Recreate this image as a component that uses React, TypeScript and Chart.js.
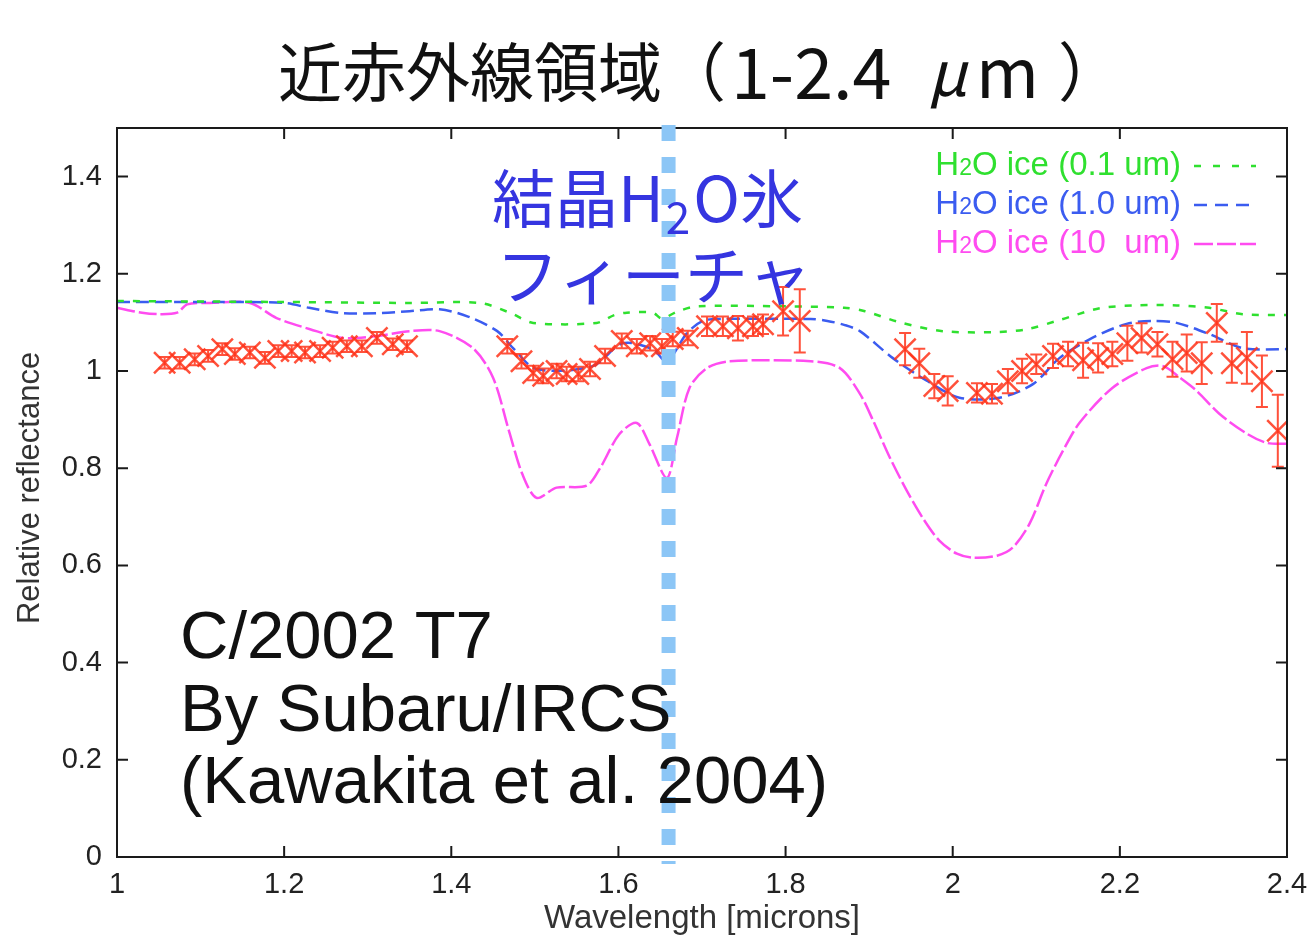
import React, { useEffect, useRef } from 'react';
import { Chart, registerables } from 'chart.js';

Chart.register(...registerables);

// ---- axis ticks ----
const xTickValues = [1, 1.2, 1.4, 1.6, 1.8, 2, 2.2, 2.4];
const xTickLabels = ['1', '1.2', '1.4', '1.6', '1.8', '2', '2.2', '2.4'];
const yTickValues = [0, 0.2, 0.4, 0.6, 0.8, 1, 1.2, 1.4];
const yTickLabels = ['0', '0.2', '0.4', '0.6', '0.8', '1', '1.2', '1.4'];

// ---- model: H2O ice 0.1 um ----
const ice01Wave = [1.0, 1.2, 1.35, 1.434, 1.47, 1.498, 1.574, 1.595, 1.61, 1.641, 1.652, 1.67, 1.694, 1.8, 1.87, 1.895, 1.937, 1.988, 2.05, 2.089, 2.128, 2.176, 2.22, 2.268, 2.307, 2.347, 2.4];
const ice01Refl = [1.144, 1.142, 1.14, 1.14, 1.12, 1.099, 1.099, 1.115, 1.12, 1.12, 1.108, 1.122, 1.133, 1.133, 1.13, 1.123, 1.1, 1.082, 1.08, 1.086, 1.105, 1.129, 1.135, 1.135, 1.13, 1.117, 1.115];

// ---- model: H2O ice 1.0 um ----
const ice1Wave = [1.0, 1.12, 1.2, 1.23, 1.27, 1.31, 1.35, 1.386, 1.42, 1.455, 1.474, 1.502, 1.569, 1.605, 1.641, 1.658, 1.682, 1.701, 1.72, 1.83, 1.85, 1.87, 1.889, 1.928, 1.969, 2.008, 2.056, 2.096, 2.128, 2.167, 2.208, 2.239, 2.268, 2.307, 2.347, 2.4];
const ice1Refl = [1.142, 1.142, 1.14, 1.13, 1.119, 1.119, 1.123, 1.127, 1.112, 1.082, 1.047, 1.004, 1.01, 1.057, 1.045, 1.02, 1.078, 1.103, 1.107, 1.107, 1.103, 1.095, 1.082, 1.027, 0.98, 0.945, 0.945, 0.973, 1.027, 1.068, 1.097, 1.103, 1.099, 1.076, 1.047, 1.045];

// ---- model: H2O ice 10 um ----
const ice10Wave = [1.0, 1.03, 1.051, 1.072, 1.084, 1.111, 1.159, 1.191, 1.231, 1.27, 1.311, 1.35, 1.386, 1.426, 1.45, 1.469, 1.485, 1.502, 1.526, 1.562, 1.578, 1.601, 1.622, 1.637, 1.658, 1.67, 1.685, 1.706, 1.733, 1.83, 1.865, 1.889, 1.905, 1.925, 1.945, 1.964, 1.984, 2.005, 2.024, 2.053, 2.072, 2.092, 2.112, 2.132, 2.152, 2.191, 2.232, 2.252, 2.272, 2.292, 2.319, 2.352, 2.376, 2.4];
const ice10Refl = [1.13, 1.12, 1.117, 1.12, 1.137, 1.14, 1.14, 1.109, 1.086, 1.068, 1.072, 1.082, 1.082, 1.047, 0.986, 0.877, 0.788, 0.739, 0.76, 0.764, 0.8, 0.87, 0.893, 0.85, 0.78, 0.862, 0.965, 1.006, 1.02, 1.02, 1.006, 0.953, 0.897, 0.821, 0.754, 0.698, 0.651, 0.624, 0.616, 0.62, 0.637, 0.686, 0.768, 0.836, 0.894, 0.965, 1.006, 1.01, 0.986, 0.959, 0.912, 0.871, 0.852, 0.85];

// ---- observed C/2002 T7 ----
const obsWave = [
  1.057, 1.075, 1.093, 1.109, 1.126, 1.141, 1.159, 1.177, 1.193, 1.209, 1.225, 1.243, 1.258, 1.275, 1.293, 1.311, 1.33, 1.347,
  1.467, 1.484, 1.498, 1.51, 1.526, 1.538, 1.552, 1.566, 1.584, 1.604, 1.622, 1.638, 1.652, 1.665, 1.683, 1.706, 1.725, 1.743, 1.761, 1.773, 1.797, 1.817,
  1.943, 1.96, 1.978, 1.994, 2.029, 2.047, 2.066, 2.083, 2.1, 2.12, 2.138, 2.156, 2.174, 2.191, 2.209, 2.226, 2.245, 2.263, 2.28, 2.298, 2.316, 2.334, 2.352, 2.37, 2.389,
];
const obsRefl = [
  1.017, 1.017, 1.024, 1.031, 1.045, 1.035, 1.038, 1.027, 1.041, 1.041, 1.038, 1.041, 1.048, 1.051, 1.051, 1.068, 1.055, 1.051,
  1.051, 1.02, 0.996, 0.99, 1.0, 0.994, 0.994, 1.004, 1.031, 1.062, 1.051, 1.057, 1.051, 1.066, 1.068, 1.092, 1.092, 1.088, 1.092, 1.096, 1.123, 1.103,
  1.045, 1.016, 0.969, 0.959, 0.955, 0.953, 0.979, 1.0, 1.014, 1.031, 1.035, 1.022, 1.027, 1.035, 1.057, 1.068, 1.055, 1.024, 1.037, 1.016, 1.099, 1.016, 1.027, 0.979, 0.877,
];
const obsErr = [
  0.012, 0.012, 0.012, 0.012, 0.012, 0.012, 0.012, 0.012, 0.012, 0.012, 0.012, 0.012, 0.012, 0.012, 0.012, 0.012, 0.012, 0.012,
  0.015, 0.015, 0.015, 0.015, 0.015, 0.015, 0.015, 0.015, 0.015, 0.015, 0.015, 0.015, 0.015, 0.015, 0.015, 0.02, 0.02, 0.025, 0.02, 0.02, 0.05, 0.065,
  0.033, 0.03, 0.025, 0.03, 0.02, 0.02, 0.025, 0.025, 0.02, 0.025, 0.025, 0.036, 0.03, 0.025, 0.036, 0.03, 0.025, 0.036, 0.038, 0.043, 0.039, 0.04, 0.053, 0.053, 0.074,
];

const featureWave = 1.66;

const GREEN = '#2fe02f';
const BLUE = '#3b5cf0';
const MAGENTA = '#ff4cf0';
const RED = 'rgba(255,50,25,0.85)';

const legendItems = [
  { pre: 'H', sub: '2', post: 'O ice (0.1 um)', color: GREEN, dash: [7, 12] },
  { pre: 'H', sub: '2', post: 'O ice (1.0 um)', color: BLUE, dash: [13, 8] },
  { pre: 'H', sub: '2', post: 'O ice (10  um)', color: MAGENTA, dash: [19, 4] },
];

const toPts = (xs: number[], ys: number[]) => xs.map((x, i) => ({ x, y: ys[i] }));

const SANS = '"Liberation Sans", Arial, sans-serif';
const CJK = '"Noto Sans CJK JP", sans-serif';

const overlayPlugin = {
  id: 'overlay',
  afterDatasetsDraw(chart: any) {
    const { ctx, chartArea: a, scales } = chart;
    const xs = scales.x;
    const ys = scales.y;
    ctx.save();
    // error bars
    ctx.strokeStyle = RED;
    ctx.lineWidth = 2;
    obsWave.forEach((w, i) => {
      const px = xs.getPixelForValue(w);
      const top = ys.getPixelForValue(obsRefl[i] + obsErr[i]);
      const bot = ys.getPixelForValue(obsRefl[i] - obsErr[i]);
      ctx.beginPath();
      ctx.moveTo(px, top);
      ctx.lineTo(px, bot);
      ctx.moveTo(px - 6, top);
      ctx.lineTo(px + 6, top);
      ctx.moveTo(px - 6, bot);
      ctx.lineTo(px + 6, bot);
      ctx.stroke();
    });
    // frame
    ctx.strokeStyle = '#1a1a1a';
    ctx.lineWidth = 2;
    ctx.strokeRect(a.left, a.top, a.right - a.left, a.bottom - a.top);
    const tl = 11;
    ctx.beginPath();
    xTickValues.forEach((v) => {
      const px = xs.getPixelForValue(v);
      ctx.moveTo(px, a.bottom);
      ctx.lineTo(px, a.bottom - tl);
      ctx.moveTo(px, a.top);
      ctx.lineTo(px, a.top + tl);
    });
    yTickValues.forEach((v) => {
      const py = ys.getPixelForValue(v);
      ctx.moveTo(a.left, py);
      ctx.lineTo(a.left + tl, py);
      ctx.moveTo(a.right, py);
      ctx.lineTo(a.right - tl, py);
    });
    ctx.stroke();

    // legend
    ctx.textBaseline = 'middle';
    legendItems.forEach((it, i) => {
      const y = 166 + i * 39;
      const big = `33px ${SANS}`;
      const small = `23px ${SANS}`;
      ctx.font = big;
      const w1 = ctx.measureText(it.pre).width;
      const w3 = ctx.measureText(it.post).width;
      ctx.font = small;
      const w2 = ctx.measureText(it.sub).width;
      let x = 1181 - (w1 + w2 + w3);
      ctx.fillStyle = it.color;
      ctx.textAlign = 'left';
      ctx.font = big;
      ctx.fillText(it.pre, x, y);
      x += w1;
      ctx.font = small;
      ctx.fillText(it.sub, x, y + 3);
      x += w2;
      ctx.font = big;
      ctx.fillText(it.post, x, y);
      ctx.strokeStyle = it.color;
      ctx.lineWidth = 2.5;
      ctx.setLineDash(it.dash);
      ctx.beginPath();
      ctx.moveTo(1194, y);
      ctx.lineTo(1256, y);
      ctx.stroke();
      ctx.setLineDash([]);
    });
    ctx.restore();
  },
  afterDraw(chart: any) {
    const { ctx, chartArea: a, scales } = chart;
    ctx.save();
    // feature marker line
    const fx = scales.x.getPixelForValue(featureWave);
    ctx.strokeStyle = '#8cc6f6';
    ctx.lineWidth = 14;
    ctx.setLineDash([16, 16]);
    ctx.beginPath();
    ctx.moveTo(fx, 125);
    ctx.lineTo(fx, 864);
    ctx.stroke();
    ctx.setLineDash([]);

    // axis titles
    ctx.fillStyle = '#333';
    ctx.textAlign = 'center';
    ctx.textBaseline = 'middle';
    ctx.font = `33px ${SANS}`;
    ctx.fillText('Wavelength [microns]', (a.left + a.right) / 2, 919);
    ctx.save();
    ctx.translate(30, 488);
    ctx.rotate(-Math.PI / 2);
    ctx.font = `31px ${SANS}`;
    ctx.fillText('Relative reflectance', 0, 0);
    ctx.restore();

    // title
    ctx.fillStyle = '#111';
    ctx.textAlign = 'left';
    ctx.font = `64px ${CJK}`;
    ctx.fillText('近赤外線領域（', 278, 72);
    ctx.font = `70px ${CJK}`;
    ctx.fillText('1-2.4', 731, 72);
    ctx.font = `italic 62px ${CJK}`;
    ctx.fillText('μ', 928, 72);
    ctx.font = `68px ${CJK}`;
    ctx.fillText('m', 976, 72);
    ctx.font = `64px ${CJK}`;
    ctx.fillText('）', 1058, 72);

    // feature label
    ctx.fillStyle = '#3535e0';
    ctx.font = `63px ${CJK}`;
    let x = 492;
    ctx.fillText('結晶H', x, 198);
    x += ctx.measureText('結晶H').width;
    ctx.font = `44px ${CJK}`;
    ctx.fillText('2', x + 2, 217);
    x += ctx.measureText('2').width + 5;
    ctx.font = `63px ${CJK}`;
    ctx.fillText('O氷', x, 198);
    ctx.fillText('フィーチャ', 496, 275);

    // object label
    ctx.fillStyle = '#111';
    ctx.font = `67px ${SANS}`;
    ctx.textBaseline = 'alphabetic';
    ctx.fillText('C/2002 T7', 180, 658);
    ctx.fillText('By Subaru/IRCS', 180, 731);
    ctx.fillText('(Kawakita et al. 2004)', 180, 803);
    ctx.restore();
  },
};

export default function App() {
  const ref = useRef<HTMLCanvasElement | null>(null);
  useEffect(() => {
    if (!ref.current) return;
    const tickFont = { family: SANS, size: 29 };
    const chart = new Chart(ref.current, {
      type: 'scatter',
      data: {
        datasets: [
          {
            label: 'C/2002 T7',
            data: toPts(obsWave, obsRefl),
            showLine: false,
            pointStyle: 'crossRot',
            pointRadius: 15,
            borderWidth: 2.5,
            borderColor: RED,
            backgroundColor: RED,
          },
          {
            label: 'H2O ice (0.1 um)',
            data: toPts(ice01Wave, ice01Refl),
            showLine: true,
            pointRadius: 0,
            borderColor: GREEN,
            borderWidth: 2.5,
            borderDash: [7, 9],
            tension: 0.3,
          },
          {
            label: 'H2O ice (1.0 um)',
            data: toPts(ice1Wave, ice1Refl),
            showLine: true,
            pointRadius: 0,
            borderColor: BLUE,
            borderWidth: 2.5,
            borderDash: [13, 6],
            tension: 0.3,
          },
          {
            label: 'H2O ice (10 um)',
            data: toPts(ice10Wave, ice10Refl),
            showLine: true,
            pointRadius: 0,
            borderColor: MAGENTA,
            borderWidth: 2.5,
            borderDash: [18, 4],
            tension: 0.3,
          },
        ],
      },
      options: {
        responsive: false,
        animation: false,
        layout: { padding: { left: 0, top: 128, right: 25, bottom: 0 } },
        plugins: {
          legend: { display: false },
          title: { display: false },
          tooltip: { enabled: false },
        },
        scales: {
          x: {
            type: 'linear',
            min: 1,
            max: 2.4,
            afterFit: (s: any) => { s.height = 79; s.paddingLeft = 0; s.paddingRight = 0; },
            afterBuildTicks: (s: any) => { s.ticks = xTickValues.map((v) => ({ value: v })); },
            grid: { display: false, drawTicks: false },
            border: { display: false },
            ticks: {
              font: tickFont,
              color: '#222',
              padding: 11,
              maxRotation: 0,
              autoSkip: false,
              callback: (v: any) => xTickLabels[xTickValues.findIndex((t) => Math.abs(t - v) < 1e-9)] ?? '',
            },
          },
          y: {
            type: 'linear',
            min: 0,
            max: 1.5,
            afterFit: (s: any) => { s.width = 117; s.paddingTop = 0; s.paddingBottom = 0; },
            afterBuildTicks: (s: any) => { s.ticks = yTickValues.map((v) => ({ value: v })); },
            grid: { display: false, drawTicks: false },
            border: { display: false },
            ticks: {
              font: tickFont,
              color: '#222',
              padding: 15,
              autoSkip: false,
              callback: (v: any) => yTickLabels[yTickValues.findIndex((t) => Math.abs(t - v) < 1e-9)] ?? '',
            },
          },
        },
      },
      plugins: [overlayPlugin],
    });
    return () => chart.destroy();
  }, []);

  return (
    <div style={{ position: 'fixed', left: 0, top: 0, width: 1312, height: 936, background: '#fff' }}>
      <canvas ref={ref} width={1312} height={936} style={{ display: 'block', width: 1312, height: 936 }} />
    </div>
  );
}
